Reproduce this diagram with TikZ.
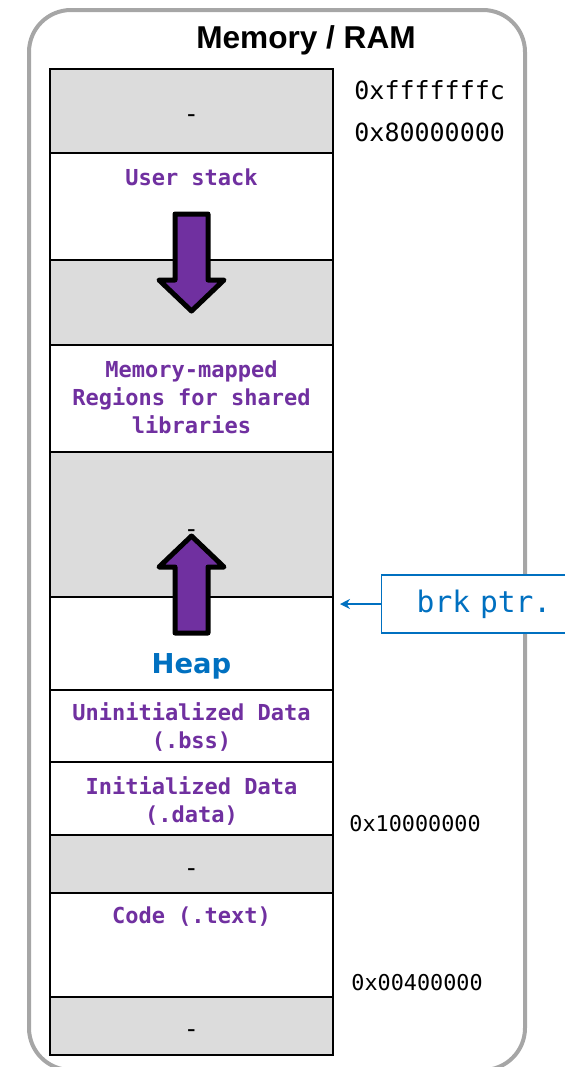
\documentclass[tikz,border=0pt]{standalone}
\usepackage{fontspec}
\setmainfont{Liberation Sans}
\setmonofont{DejaVu Sans Mono}
\newfontfamily\heapfont{DejaVu Sans}
\usetikzlibrary{arrows.meta}

\definecolor{segpurple}{HTML}{7030A0}
\definecolor{ptrblue}{HTML}{0070C0}
\definecolor{freegray}{HTML}{DCDCDC}
\definecolor{ramgray}{HTML}{A6A6A6}

\tikzset{
    seg/.style={draw=black, line width=1.2pt},
    segtext/.style={font=\ttfamily\bfseries\fontsize{11}{14}\selectfont, text=segpurple, align=center, anchor=base, inner sep=0pt},
    gap/.style={font=\ttfamily\fontsize{12.5}{15}\selectfont, inner sep=0pt},
    addr/.style={font=\ttfamily\fontsize{12.5}{15}\selectfont, anchor=base west, inner sep=0pt},
    addrsmall/.style={addr, font=\ttfamily\fontsize{10.9}{13}\selectfont},
    growarrow/.style={draw=black, line width=2.5pt, line join=round, fill=segpurple},
}

\begin{document}
\begin{tikzpicture}[x=0.5pt, y=-0.5pt]
        \useasboundingbox (0,0) rectangle (564,1067);

        % outer frame
        \draw[ramgray, line width=2pt, rounded corners=21pt] (29,10) rectangle (525,1070);
        \node[anchor=base, inner sep=0pt, font=\bfseries\fontsize{15.8}{19}\selectfont] (title) at (306,48) {Memory / RAM};

        % segments, top to bottom
        \draw[seg, fill=freegray] (50,69) rectangle (333,153);
        \draw[seg, fill=white] (50,153) rectangle (333,260);
        \draw[seg, fill=freegray] (50,260) rectangle (333,345);
        \draw[seg, fill=white] (50,345) rectangle (333,452);
        \draw[seg, fill=freegray] (50,452) rectangle (333,597);
        \draw[seg, fill=white] (50,597) rectangle (333,690);
        \draw[seg, fill=white] (50,690) rectangle (333,762);
        \draw[seg, fill=white] (50,762) rectangle (333,835);
        \draw[seg, fill=freegray] (50,835) rectangle (333,893);
        \draw[seg, fill=white] (50,893) rectangle (333,997);
        \draw[seg, fill=freegray] (50,997) rectangle (333,1055);

        % labels (base = last line)
        \node[gap] (gap1) at (191.5,119) {-};
        \node[segtext] (stack) at (191.5,185) {User stack};
        \node[segtext] (mmap) at (191.5,433) {Memory-mapped\\Regions for shared\\libraries};
        \node[gap] (gap2) at (191.5,534) {-};
        \node[anchor=base, inner sep=0pt, text=ptrblue, font=\heapfont\bfseries\fontsize{13.7}{16}\selectfont] (heap) at (191.5,673) {Heap};
        \node[segtext] (bss) at (191.5,748) {Uninitialized Data\\(.bss)};
        \node[segtext] (data) at (191.5,822) {Initialized Data\\(.data)};
        \node[gap] (gap3) at (191.5,873) {-};
        \node[segtext] (text) at (191.5,923) {Code (.text)};
        \node[gap] (gap4) at (191.5,1034) {-};

        % stack grows down, heap grows up
        \draw[growarrow] (175,214) -- (208,214) -- (208,280) -- (224,280) -- (191.5,311) -- (159,280) -- (175,280) -- cycle;
        \draw[growarrow] (191.5,536) -- (224,567) -- (208,567) -- (208,633) -- (175,633) -- (175,567) -- (159,567) -- cycle;

        % addresses
        \node[addr] (atop) at (354,99) {0xfffffffc};
        \node[addr] (akern) at (354,141) {0x80000000};
        \node[addrsmall] (adata) at (349,831) {0x10000000};
        \node[addrsmall] (atext) at (351,990) {0x00400000};

        % program break
        \node[draw=ptrblue, line width=0.7pt, fill=white, anchor=west, minimum height=29pt,
              inner xsep=17.5pt, text width=82pt, align=left, text=ptrblue,
              font=\ttfamily\fontsize{14.8}{17}\selectfont] (brk) at (381,604) {\mbox{brk ptr.}};
        \coordinate (brktip) at (340,604);
        \draw[-{Stealth[length=5pt, width=5pt]}, ptrblue, line width=0.8pt] (brk.west) -- (brktip);

    \end{tikzpicture}
\end{document}
